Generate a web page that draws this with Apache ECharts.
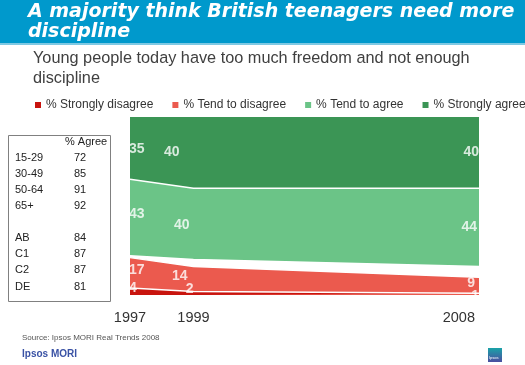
<!DOCTYPE html>
<html>
<head>
<meta charset="utf-8">
<script src="https://cdn.jsdelivr.net/npm/echarts@6/dist/echarts.min.js"></script>
<style>html,body{margin:0;padding:0;background:#fff;}#c{width:525px;height:365px;}</style>
</head>
<body>
<div id="c"></div>
<script>
// ---- data ----
var years = [1997, 1999, 2008];
var stronglyDisagree = [4, 2, 1];
var tendDisagree = [17, 14, 9];
var neither = [1, 4, 6];            // remainder (white gap)
var tendAgree = [43, 40, 44];
var stronglyAgree = [35, 40, 40];
var seriesNames = ['% Strongly disagree', '% Tend to disagree', '% Tend to agree', '% Strongly agree'];
var tableGroups = ['15-29', '30-49', '50-64', '65+', '', 'AB', 'C1', 'C2', 'DE'];
var tableAgree = ['72', '85', '91', '92', '', '84', '87', '87', '81'];

var colors = { sd: '#C8140E', td: '#EB5A4E', ta: '#6BC487', sa: '#3B9555' };
var FONT = '"Liberation Sans", Arial, sans-serif';

// bands bottom -> top
var bands = [
  { name: seriesNames[0], data: stronglyDisagree, color: colors.sd },
  { name: seriesNames[1], data: tendDisagree, color: colors.td },
  { name: 'other', data: neither, color: '#ffffff' },
  { name: seriesNames[2], data: tendAgree, color: colors.ta },
  { name: seriesNames[3], data: stronglyAgree, color: colors.sa }
];
var cum = [0, 0, 0];
bands.forEach(function (b) {
  b.low = cum.slice();
  cum = cum.map(function (c, i) { return c + b.data[i]; });
  b.top = cum.slice();
});

// draw top band first, lower bands over it (each area from 0 to cumulative top)
var series = [];
for (var k = bands.length - 1; k >= 0; k--) {
  var b = bands[k];
  series.push({
    name: b.name, type: 'line',
    data: b.top.map(function (v, i) { return [years[i], v]; }),
    symbol: 'none',
    lineStyle: { color: '#ffffff', width: (k === bands.length - 1 ? 0 : 1.5) },
    areaStyle: { color: b.color, opacity: 1, origin: 'start' },
    itemStyle: { color: b.color },
    z: 2 + (bands.length - k)
  });
}

// labels at middle of bands
var labelAlign = ['left', 'right', 'right'];
var labelTweaks = {
  0: [[-1, -3], [0, -4], [0, 2]],
  1: [[-1, -3], [-6, -3], [-4, -2]],
  3: [[-1, -3], [-4, 1], [-2, 0]],
  4: [[-1, 1], [-14, 0], [0, 0]]
};
var labelData = [];
[0, 1, 3, 4].forEach(function (k) {
  var b = bands[k];
  b.data.forEach(function (v, i) {
    var t = labelTweaks[k][i];
    labelData.push({
      value: [years[i], b.low[i] + v / 2],
      label: { show: true, position: 'inside', formatter: String(v), align: labelAlign[i], offset: t }
    });
  });
});
series.push({
  type: 'scatter', data: labelData, symbolSize: 1, itemStyle: { color: 'rgba(0,0,0,0)' },
  label: { show: true, color: '#ffffff', fontFamily: FONT, fontWeight: 'bold', fontSize: 14 },
  z: 20, silent: true
});

function txt(x, y, s, font, fill, extra) {
  var st = { text: s, font: font, fill: fill, verticalAlign: 'middle', align: 'left' };
  if (extra) for (var p in extra) st[p] = extra[p];
  return { type: 'text', x: x, y: y, style: st, z: 30 };
}

var graphics = [
  { type: 'rect', shape: { x: 0, y: 0, width: 525, height: 43 }, style: { fill: '#0099CC' } },
  { type: 'rect', shape: { x: 0, y: 43, width: 525, height: 2 }, style: { fill: '#7FC9E3' } },
  { type: 'text', x: 28, y: 2.5, style: { text: 'A majority think British teenagers need more\ndiscipline', fill: '#ffffff', font: 'italic bold 19px "DejaVu Sans", sans-serif', lineHeight: 19.5, verticalAlign: 'top' } },
  { type: 'text', x: 33, y: 49, style: { text: 'Young people today have too much freedom and not enough\ndiscipline', fill: '#404040', font: '16.3px ' + FONT, lineHeight: 20, verticalAlign: 'top' } },
  { type: 'rect', shape: { x: 8.5, y: 135.5, width: 102, height: 166 }, style: { fill: 'none', stroke: '#808080', lineWidth: 1 } },
  txt(65, 142, '% Agree', '11px ' + FONT, '#222'),
  txt(22, 338, 'Source: Ipsos MORI Real Trends 2008', '8px ' + FONT, '#555'),
  txt(22, 354, 'Ipsos MORI', 'bold 10px ' + FONT, '#3A52A5'),
  { type: 'rect', shape: { x: 488, y: 348, width: 14, height: 14 }, style: { fill: { type: 'linear', x: 0, y: 0, x2: 0, y2: 1, colorStops: [{ offset: 0, color: '#1AA3A8' }, { offset: 1, color: '#4B4DA0' }] } } },
  txt(489, 358, 'Ipsos', '4px ' + FONT, '#fff')
];
var rowY = [158, 174, 190, 206, 222, 238, 254, 270, 287];
tableGroups.forEach(function (g, i) {
  if (!g) return;
  graphics.push(txt(15, rowY[i], g, '11px ' + FONT, '#222'));
  graphics.push(txt(74, rowY[i], tableAgree[i], '11px ' + FONT, '#222'));
});

var chart = echarts.init(document.getElementById('c'), null, { renderer: 'canvas' });
chart.setOption({
  animation: false,
  backgroundColor: '#ffffff',
  grid: { left: 130, right: 46, top: 117, bottom: 70 },
  legend: {
    data: seriesNames.map(function (n, i) { return { name: n, itemStyle: { color: [colors.sd, colors.td, colors.ta, colors.sa][i] } }; }),
    left: 30, top: 94, width: 500, icon: 'rect', itemWidth: 6, itemHeight: 6, itemGap: 19,
    textStyle: { fontFamily: FONT, fontSize: 12, color: '#333' }
  },
  xAxis: {
    type: 'value', min: years[0], max: years[years.length - 1],
    axisLine: { show: false }, axisTick: { show: false }, splitLine: { show: false },
    axisLabel: {
      customValues: years, fontFamily: FONT, fontSize: 14.5, color: '#333', margin: 15,
      formatter: function (v) { return v === years[years.length - 1] ? '{r|' + v + '}' : String(v); },
      rich: { r: { fontFamily: FONT, fontSize: 14.5, color: '#333', padding: [0, 4, 0, 0] } },
      alignMaxLabel: 'right'
    }
  },
  yAxis: { type: 'value', min: 0, max: 100, show: false },
  series: series,
  graphic: graphics
});
</script>
</body>
</html>
